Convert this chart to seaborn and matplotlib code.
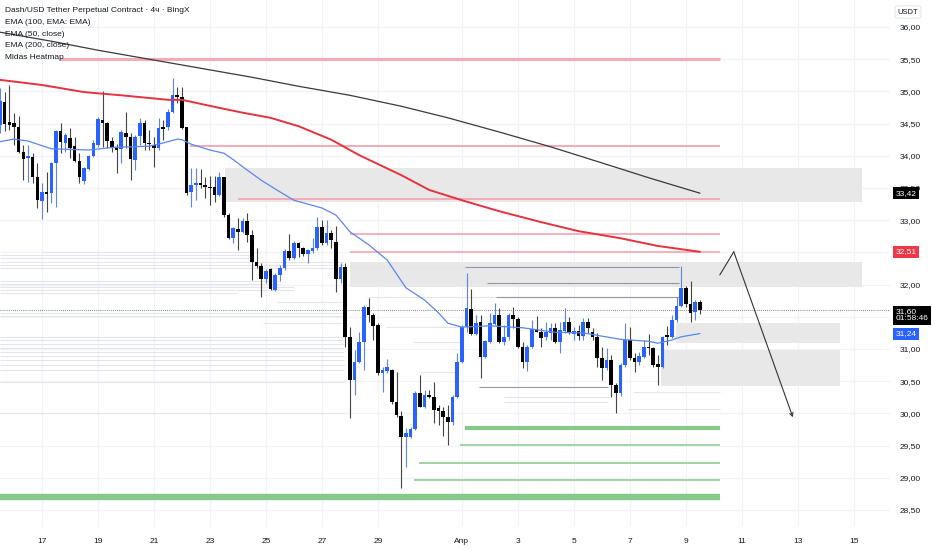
import numpy as np
import pandas as pd
import matplotlib
matplotlib.use('Agg')
import matplotlib.pyplot as plt
import matplotlib.transforms as mtransforms
import seaborn as sns

sns.set_theme(style='white')
plt.rcParams['font.family'] = ['Liberation Sans', 'DejaVu Sans']

# 4h candles, x axis in days counted from Mar 17 00:00, first bar = Mar 15 12:00
start_day = -1.5
opens = [34.48, 34.84, 34.53, 34.51, 34.45, 34.06, 33.97, 33.98, 33.67, 33.30,
         33.44, 33.42, 33.89, 34.39, 34.20, 34.28, 34.15, 33.92, 33.61, 33.80,
         34.00, 34.17, 34.56, 34.51, 34.23, 34.14, 34.11, 34.35, 34.29, 33.94,
         34.31, 34.51, 34.20, 34.17, 34.12, 34.45, 34.45, 34.68, 34.94, 34.91,
         34.45, 33.44, 33.55, 33.58, 33.53, 33.52, 33.52, 33.39, 33.67, 33.08,
         32.72, 32.86, 32.82, 32.99, 32.77, 32.35, 32.29, 32.09, 32.24, 31.92,
         32.15, 32.26, 32.52, 32.41, 32.65, 32.57, 32.48, 32.52, 32.57, 32.89,
         32.65, 32.80, 32.66, 32.09, 32.27, 31.19, 30.52, 30.80, 31.11, 31.65,
         31.53, 31.37, 30.63, 30.66, 30.67, 30.18, 29.96, 29.63, 29.63, 29.76,
         30.32, 30.10, 30.29, 30.25, 30.08, 30.04, 29.94, 29.87, 30.25, 30.80,
         31.34, 31.62, 31.23, 31.42, 30.88, 31.11, 31.39, 31.53, 31.11, 31.19,
         31.53, 31.47, 31.03, 30.80, 31.03, 31.31, 31.26, 31.19, 31.25, 31.33,
         31.11, 31.28, 31.42, 31.23, 31.28, 31.20, 31.42, 31.26, 31.19, 30.86,
         30.70, 30.83, 30.44, 30.32, 30.75, 31.14, 30.86, 30.80, 30.88, 31.03,
         31.01, 30.77, 30.72, 31.20, 31.19, 31.45, 31.67, 31.95, 31.70, 31.57,
         31.73]
highs = [35.05, 34.99, 35.10, 34.67, 34.62, 34.17, 34.17, 34.04, 33.89, 33.58,
         33.75, 33.90, 34.40, 34.51, 34.35, 34.43, 34.29, 34.04, 33.83, 34.01,
         34.25, 34.60, 35.00, 34.53, 34.29, 34.18, 34.40, 34.68, 34.35, 34.32,
         34.59, 34.56, 34.40, 34.29, 34.59, 34.56, 34.73, 35.21, 35.07, 35.07,
         34.45, 33.81, 33.81, 33.80, 33.67, 33.69, 33.69, 33.75, 33.67, 33.11,
         32.89, 33.03, 33.03, 33.11, 32.85, 32.57, 32.34, 32.24, 32.26, 32.18,
         32.30, 32.55, 32.79, 32.67, 32.66, 32.58, 32.55, 32.72, 33.05, 33.00,
         33.00, 32.85, 32.91, 32.34, 32.34, 31.34, 30.98, 31.26, 31.68, 31.79,
         31.56, 31.40, 30.72, 30.84, 30.69, 30.64, 30.04, 29.77, 29.79, 30.35,
         30.60, 30.36, 30.36, 30.49, 30.13, 30.10, 30.13, 30.29, 30.94, 31.37,
         32.18, 31.93, 31.53, 31.53, 31.14, 31.56, 31.71, 31.64, 31.37, 31.56,
         31.65, 31.50, 31.11, 31.06, 31.45, 31.51, 31.33, 31.42, 31.40, 31.40,
         31.42, 31.64, 31.50, 31.34, 31.37, 31.48, 31.48, 31.33, 31.25, 31.03,
         31.01, 30.91, 30.47, 30.78, 31.40, 31.34, 30.94, 30.96, 31.14, 31.23,
         31.03, 30.91, 31.20, 31.36, 31.53, 31.81, 32.29, 31.98, 32.06, 31.76,
         31.76]
lows = [34.35, 34.39, 34.40, 34.17, 34.04, 33.62, 33.59, 33.58, 33.19, 33.02,
        33.13, 33.27, 33.21, 34.04, 34.06, 33.97, 33.90, 33.58, 33.56, 33.78,
        33.98, 34.14, 34.14, 34.12, 34.06, 33.73, 33.89, 34.12, 33.62, 33.78,
        34.17, 34.09, 34.09, 33.83, 34.09, 34.25, 34.40, 34.67, 34.82, 34.42,
        33.39, 33.21, 33.31, 33.50, 33.34, 33.24, 33.28, 33.38, 33.05, 32.71,
        32.65, 32.54, 32.80, 32.66, 32.07, 32.26, 31.81, 32.03, 31.92, 31.90,
        32.06, 32.23, 32.38, 32.40, 32.43, 32.45, 32.34, 32.49, 32.54, 32.62,
        32.62, 32.57, 31.89, 32.03, 31.03, 29.93, 30.29, 30.78, 30.67, 31.42,
        31.14, 30.60, 30.33, 30.63, 30.15, 29.94, 28.84, 29.17, 29.62, 29.74,
        30.10, 30.08, 30.24, 29.85, 29.82, 29.65, 29.51, 29.82, 30.24, 30.78,
        31.26, 31.22, 31.22, 30.55, 30.86, 31.09, 31.37, 31.09, 31.06, 31.14,
        31.33, 31.01, 30.70, 30.66, 31.01, 31.26, 31.03, 31.14, 31.14, 31.09,
        30.94, 31.25, 31.23, 31.14, 31.14, 31.14, 31.25, 31.14, 30.72, 30.52,
        30.67, 30.25, 30.01, 30.27, 30.72, 30.83, 30.64, 30.75, 30.86, 30.91,
        30.72, 30.44, 30.70, 31.06, 31.17, 31.42, 31.65, 31.65, 31.42, 31.45,
        31.54]
closes = [34.85, 34.50, 34.48, 34.45, 34.06, 33.95, 33.98, 33.67, 33.31, 33.44,
          33.41, 33.89, 34.39, 34.22, 34.32, 34.12, 33.92, 33.67, 33.81, 34.00,
          34.20, 34.57, 34.51, 34.23, 34.12, 34.09, 34.37, 34.29, 33.95, 34.29,
          34.51, 34.20, 34.18, 34.12, 34.43, 34.42, 34.68, 34.94, 34.91, 34.43,
          33.42, 33.55, 33.58, 33.55, 33.52, 33.50, 33.39, 33.67, 33.08, 32.72,
          32.88, 32.82, 32.99, 32.77, 32.35, 32.29, 32.09, 32.21, 31.93, 32.15,
          32.26, 32.52, 32.41, 32.65, 32.57, 32.48, 32.54, 32.57, 32.89, 32.65,
          32.80, 32.69, 32.09, 32.27, 31.19, 30.52, 30.80, 31.11, 31.65, 31.53,
          31.36, 30.63, 30.67, 30.72, 30.18, 29.97, 29.63, 29.70, 29.76, 30.32,
          30.10, 30.29, 30.25, 30.05, 30.04, 29.94, 29.87, 30.25, 30.80, 31.34,
          31.64, 31.23, 31.40, 30.88, 31.12, 31.40, 31.53, 31.11, 31.19, 31.53,
          31.47, 31.03, 30.80, 31.03, 31.31, 31.26, 31.17, 31.26, 31.33, 31.11,
          31.30, 31.42, 31.25, 31.28, 31.20, 31.42, 31.33, 31.19, 30.86, 30.70,
          30.83, 30.44, 30.32, 30.75, 31.14, 30.86, 30.80, 30.89, 31.03, 31.01,
          30.75, 30.72, 31.19, 31.19, 31.45, 31.67, 31.95, 31.70, 31.56, 31.73,
          31.60]

# EMA lines (bar index, price)
ema50_bar = [0, 3, 6, 11, 19, 24, 32, 35, 38, 39, 41, 45, 48, 50, 52, 56, 60, 63, 69, 72,
             75, 79, 83, 87, 91, 94, 96, 99, 105, 112, 119, 125, 133, 139, 141, 144, 146, 150]
ema50_val = [34.22, 34.26, 34.23, 34.11, 34.09, 34.13, 34.15, 34.20, 34.26, 34.25, 34.18,
             34.09, 34.04, 33.94, 33.83, 33.62, 33.44, 33.31, 33.19, 33.08, 32.82, 32.62,
             32.38, 31.95, 31.76, 31.56, 31.40, 31.34, 31.36, 31.33, 31.26, 31.25, 31.15,
             31.12, 31.09, 31.14, 31.19, 31.24]
ema100_bar = [0, 9, 18, 26, 36, 39, 46, 52, 58, 64, 71, 77, 86, 92, 99, 107, 116, 124, 133, 141, 150]
ema100_val = [35.18, 35.10, 34.99, 34.94, 34.87, 34.87, 34.76, 34.67, 34.59, 34.46, 34.25,
              34.01, 33.70, 33.47, 33.31, 33.14, 32.97, 32.83, 32.72, 32.60, 32.51]
ema200_bar = [0, 11, 21, 32, 43, 54, 64, 75, 86, 96, 107, 118, 129, 139, 150]
ema200_val = [35.92, 35.78, 35.64, 35.50, 35.36, 35.22, 35.08, 34.94, 34.77, 34.59, 34.37,
              34.14, 33.89, 33.66, 33.42]

# Midas heatmap: zones (low, high, from day, to day)
zone_low = [33.28, 31.96, 31.09, 30.43]
zone_high = [33.81, 32.35, 31.40, 30.98]
zone_from = [6.54, 11.0, 22.64, 22.1]
zone_to = [29.3, 29.3, 28.5, 28.5]

# resistance (pink) and support (green) levels
red_price = [35.50, 34.15, 33.33, 32.79, 32.51]
red_from = [0.64, 5.3, 7.0, 11.0, 11.0]
red_to = [24.21, 24.21, 24.21, 24.21, 24.21]
red_width = [2.2, 1.4, 1.4, 1.3, 1.3]
green_price = [29.77, 29.51, 29.23, 28.97, 28.70]
green_from = [15.1, 14.93, 13.46, 13.3, -1.5]
green_to = [24.21, 24.21, 24.21, 24.21, 24.21]
green_width = [3.0, 1.1, 1.1, 1.1, 4.6]

# grey volume levels (price, from day, to day, 1 = darker)
grey_price = [32.51, 32.46, 32.41, 32.35, 32.30, 32.26, 32.06, 32.01, 31.96, 31.92,
              31.87, 31.73, 31.56, 31.51, 31.40, 31.19, 31.14, 31.08, 31.01, 30.95,
              30.89, 30.83, 30.75, 30.67, 30.49, 30.01,
              31.34, 31.11, 30.64, 30.41, 30.33, 30.25, 30.18, 30.07,
              32.27, 32.27, 32.02, 31.81, 31.81]
grey_from = [0.0, -1.5, -1.5, -1.5, -1.5, -1.5, -1.5, -1.5, -1.5, -1.5,
             -1.5, 8.4, -1.5, -1.5, 7.9, -1.5, -1.5, -1.5, -1.5, -1.5,
             -1.5, -1.5, -1.5, -1.5, -1.5, -1.5,
             12.3, 13.25, 13.46, 15.6, 21.1, 16.5, 16.5, 20.9,
             11.0, 15.1, 15.9, 11.6, 16.2]
grey_to = [7.4, 7.4, 7.4, 10.8, 10.8, 10.8, 8.5, 8.5, 9.0, 9.0,
           7.0, 10.8, 10.8, 10.8, 10.8, 10.8, 10.8, 10.8, 10.8, 10.8,
           10.8, 10.8, 10.8, 10.8, 10.8, 10.8,
           15.0, 14.9, 14.9, 20.2, 24.2, 20.2, 20.2, 24.2,
           22.75, 22.75, 22.75, 22.75, 22.75]
grey_dark = [0] * 26 + [0, 0, 0, 1, 0, 0, 0, 0] + [0, 1, 1, 0, 1]

# drawn projection arrow
arrow_day = [24.21, 24.71, 26.82]
arrow_price = [32.15, 32.51, 29.94]

price_ticks = [28.5, 29.0, 29.5, 30.0, 30.5, 31.0, 31.5, 32.0, 32.5, 33.0, 33.5, 34.0, 34.5, 35.0, 35.5, 36.0]
hidden_ticks = [31.5, 32.5]   # covered by the price labels on the axis
date_ticks = [0, 2, 4, 6, 8, 10, 12, 15, 17, 19, 21, 23, 25, 27, 29]
date_labels = ['17', '19', '21', '23', '25', '27', '29', 'Апр', '3', '5', '7', '9', '11', '13', '15']

last_price = 31.60

df = pd.DataFrame({'open': opens, 'high': highs, 'low': lows, 'close': closes})
df['t'] = start_day + np.arange(len(df)) / 6.0
up = df['close'] >= df['open']

fig = plt.figure(figsize=(9.32, 5.5), dpi=100)
ax = fig.add_axes([0, 23 / 550, 890 / 932, 527 / 550])
ax.set_xlim(-1.5, 30.29)
ax.set_ylim(28.236, 36.42)

for d in date_ticks:
    ax.axvline(d, color='#F0F3FA', lw=0.9, zorder=0)
for p in price_ticks:
    ax.axhline(p, color='#F0F3FA', lw=0.9, zorder=0)

for lo, hi, a, b in zip(zone_low, zone_high, zone_from, zone_to):
    ax.fill_between([a, b], lo, hi, color='#E8E8E8', lw=0, zorder=1)

grey_cols = ['#9598A1' if g else '#E3E5EA' for g in grey_dark]
ax.hlines(grey_price, grey_from, grey_to, colors=grey_cols, linewidth=0.8, zorder=1.5)
ax.hlines(red_price, red_from, red_to, colors='#F6AAB5', linewidth=red_width, zorder=1.6)
ax.hlines(green_price, green_from, green_to, colors='#86C98A', linewidth=green_width, zorder=1.6)

ax.axhline(last_price, color='#555555', lw=0.6, ls=(0, (1, 1.5)), zorder=2)

# candles
wick_cols = np.where(up, '#5C84F0', '#444444')
body_cols = np.where(up, '#2962FF', '#000000')
ax.vlines(df['t'], df['low'], df['high'], colors=wick_cols, linewidth=0.8, zorder=3)
body = (df['close'] - df['open']).abs().clip(lower=0.02)
ax.bar(df['t'], body, bottom=df[['open', 'close']].min(axis=1), width=0.13,
       color=body_cols, linewidth=0, zorder=3.5)

# EMA lines
for bars, vals, col, lw in [(ema200_bar, ema200_val, '#3A3A3A', 0.9),
                            (ema100_bar, ema100_val, '#E5323E', 1.4),
                            (ema50_bar, ema50_val, '#5A87EE', 0.9)]:
    tx = start_day + np.array(bars) / 6.0
    sns.lineplot(x=tx, y=vals, ax=ax, color=col, linewidth=lw, zorder=4, estimator=None, sort=False)

ax.plot(arrow_day[:2], arrow_price[:2], color='#333333', lw=0.8, zorder=5)
ax.annotate('', xy=(arrow_day[2], arrow_price[2]), xytext=(arrow_day[1], arrow_price[1]),
            arrowprops=dict(arrowstyle='->', color='#333333', lw=0.8, shrinkA=0, shrinkB=0,
                            mutation_scale=6), zorder=5)

for s in ax.spines.values():
    s.set_visible(False)
ax.yaxis.tick_right()
ax.set_yticks(price_ticks, ['' if p in hidden_ticks else f'{p:.2f}'.replace('.', ',')
                            for p in price_ticks])
ax.set_xticks(date_ticks, date_labels)
ax.tick_params(axis='y', length=0, pad=7, labelsize=6, labelcolor='#131722')
ax.tick_params(axis='x', length=0, pad=8, labelsize=6, labelcolor='#131722')
ax.set_xlabel('')
ax.set_ylabel('')

# price labels on the axis
trans = mtransforms.blended_transform_factory(ax.transAxes, ax.transData)
for val, txt, fc in [(33.42, '33,42', '#000000'), (32.51, '32,51', '#F23645'),
                     (31.24, '31,24', '#2962FF')]:
    ax.text(1.006, val, txt, transform=trans, color='white', fontsize=6, va='center', ha='left',
            bbox=dict(boxstyle='square,pad=0.3', fc=fc, ec='none'), clip_on=False, zorder=10)
ax.text(1.006, last_price - 0.075, '31,60\n01:58:46', transform=trans, color='white', fontsize=6,
        va='center', ha='left', linespacing=1.05,
        bbox=dict(boxstyle='square,pad=0.3', fc='#000000', ec='none'), clip_on=False, zorder=10)

fig.text(908 / 932, 1 - 12 / 550, 'USDT', ha='center', va='center', fontsize=5.5, color='#131722',
         bbox=dict(boxstyle='round,pad=0.35', fc='white', ec='#E0E3EB', lw=0.6))

header = ['Dash/USD Tether Perpetual Contract · 4ч · BingX', 'EMA (100, EMA: EMA)',
          'EMA (50, close)', 'EMA (200, close)', 'Midas Heatmap']
for k, line in enumerate(header):
    fig.text(5 / 932, 1 - (11 + 11.6 * k) / 550, line, ha='left', va='center',
             fontsize=6, color='#131722')

fig.savefig('out.png', dpi=100)
